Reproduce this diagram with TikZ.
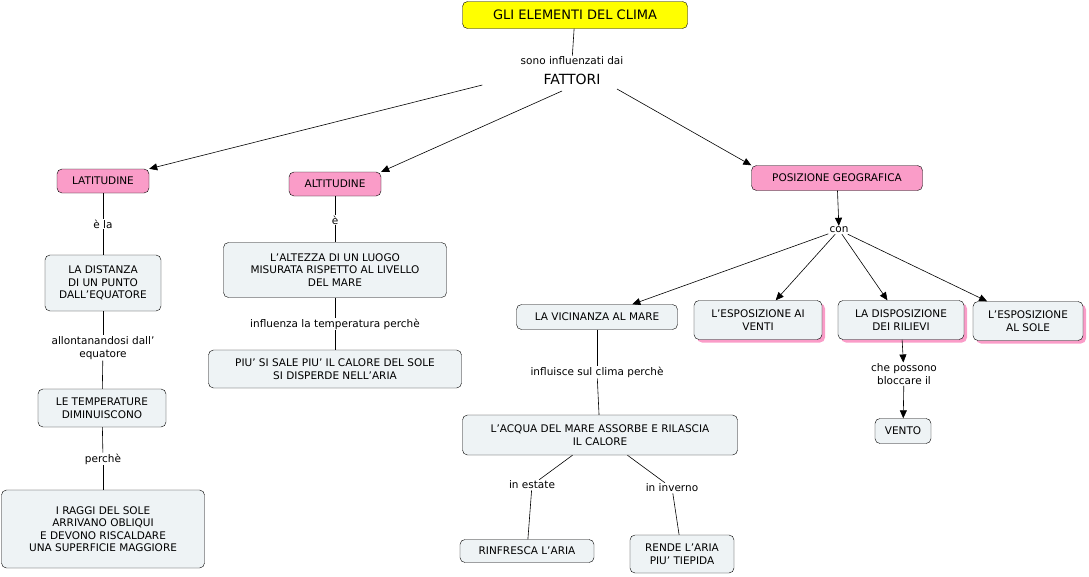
\documentclass[tikz,border=0pt]{standalone}
\usepackage{fontspec}
\setmainfont{DejaVu Sans}
\usetikzlibrary{arrows.meta,shadows}
\definecolor{boxc}{HTML}{EEF3F5}
\definecolor{pinkc}{HTML}{FA9CC8}
\definecolor{yel}{HTML}{FFFF00}
\begin{document}
\begin{tikzpicture}[x=1pt,y=-1pt,
  every node/.style={font=\fontsize{10.5}{12.5}\selectfont, align=center},
  box/.style={draw=black, rounded corners=5pt, fill=boxc, inner sep=4pt},
  cat/.style={box, fill=pinkc},
  shbox/.style={box, drop shadow={shadow xshift=3pt, shadow yshift=-3pt, fill=pinkc, opacity=1}},
  lbl/.style={fill=white, inner sep=1pt},
  ln/.style={draw=black, line width=0.6pt},
  ar/.style={ln, -{Triangle[length=8pt,width=7pt]}}]
\useasboundingbox (0,0) rectangle (1089,576);
\node[box, fill=yel, minimum width=225pt, minimum height=27pt, font=\fontsize{13}{15}\selectfont] (t) at (575,15) {GLI ELEMENTI DEL CLIMA};
\node[lbl] (s) at (572,61) {sono influenzati dai};
\node[lbl, font=\fontsize{14}{16}\selectfont] (f) at (572,79) {FATTORI};
\node[cat, minimum width=92pt, minimum height=24pt] (lat) at (103,181) {LATITUDINE};
\node[cat, minimum width=92pt, minimum height=24pt] (alt) at (335,184) {ALTITUDINE};
\node[cat, minimum width=171pt, minimum height=25pt] (pos) at (837,178) {POSIZIONE GEOGRAFICA};
\node[lbl] (l1) at (103,224) {è la};
\node[box, minimum width=116pt, minimum height=56pt] (dist) at (103,283) {LA DISTANZA\\DI UN PUNTO\\DALL'EQUATORE};
\node[lbl] (l2) at (103,348) {allontanandosi dall'\\equatore};
\node[box, minimum width=128pt, minimum height=38pt] (temp) at (102,408) {LE TEMPERATURE\\DIMINUISCONO};
\node[lbl] (l3) at (103,459) {perchè};
\node[box, minimum width=203pt, minimum height=78pt] (rag) at (103,529) {I RAGGI DEL SOLE\\ARRIVANO OBLIQUI\\E DEVONO RISCALDARE\\UNA SUPERFICIE MAGGIORE};
\node[lbl] (a1) at (335,220) {è};
\node[box, minimum width=223pt, minimum height=55pt] (altz) at (335,270) {L'ALTEZZA DI UN LUOGO\\MISURATA RISPETTO AL LIVELLO\\DEL MARE};
\node[lbl] (a2) at (335,324) {influenza la temperatura perchè};
\node[box, minimum width=253pt, minimum height=38pt] (sale) at (335,369) {PIU' SI SALE PIU' IL CALORE DEL SOLE\\SI DISPERDE NELL'ARIA};
\node[lbl] (con) at (839,230) {con};
\node[box, minimum width=161pt, minimum height=25pt] (vic) at (597,317) {LA VICINANZA AL MARE};
\node[shbox, minimum width=128pt, minimum height=39pt] (ev) at (758,320) {L'ESPOSIZIONE AI\\VENTI};
\node[shbox, minimum width=126pt, minimum height=39pt] (dr) at (901,320) {LA DISPOSIZIONE\\DEI RILIEVI};
\node[shbox, minimum width=110pt, minimum height=39pt] (es) at (1028,321) {L'ESPOSIZIONE\\AL SOLE};
\node[lbl] (v1) at (597,372) {influisce sul clima perchè};
\node[box, minimum width=275pt, minimum height=40pt] (acq) at (600,435) {L'ACQUA DEL MARE ASSORBE E RILASCIA\\IL CALORE};
\node[lbl] (e1) at (532,485) {in estate};
\node[lbl] (e2) at (672,488) {in inverno};
\node[box, minimum width=134pt, minimum height=23pt] (rin) at (527,551) {RINFRESCA L'ARIA};
\node[box, minimum width=104pt, minimum height=38pt] (ren) at (682,554) {RENDE L'ARIA\\PIU' TIEPIDA};
\node[lbl] (cp) at (904,374) {che possono\\bloccare il};
\node[box, minimum width=56pt, minimum height=25pt] (ve) at (903,431) {VENTO};
\draw[ln] (t) -- (s);
\draw[ar] (f.west) ++(-60,6) coordinate (fw) -- (lat.north east);
\path (f) ++(-10,12) coordinate (fl);
\draw[ar] (fl) -- (alt.north east);
\path (f) ++(45,10) coordinate (fr);
\draw[ar] (fr) -- (pos.north west);
\draw[ln] (lat) -- (l1); \draw[ln] (l1) -- (dist);
\draw[ln] (dist) -- (l2); \draw[ln] (l2) -- (temp);
\draw[ln] (temp) -- (l3); \draw[ln] (l3) -- (rag);
\draw[ln] (alt) -- (a1); \draw[ln] (a1) -- (altz);
\draw[ln] (altz) -- (a2); \draw[ln] (a2) -- (sale);
\draw[ar] (pos) -- (con);
\draw[ar] (con) -- (vic);
\draw[ar] (con) -- (ev);
\draw[ar] (con) -- (dr);
\draw[ar] (con) -- (es);
\draw[ln] (vic) -- (v1); \draw[ln] (v1) -- (acq);
\draw[ln] (acq) -- (e1); \draw[ln] (e1) -- (rin);
\draw[ln] (acq) -- (e2); \draw[ln] (e2) -- (ren);
\draw[ar] (dr) -- (cp);
\draw[ar] (cp) -- (ve);
\end{tikzpicture}
\end{document}
